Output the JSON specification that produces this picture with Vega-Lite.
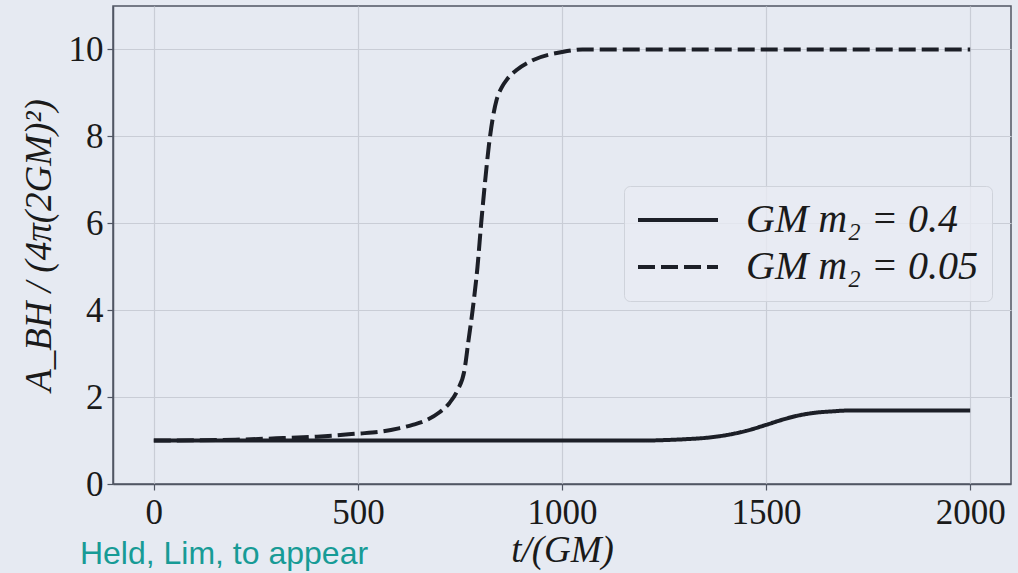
{
  "$schema": "https://vega.github.io/schema/vega-lite/v6.json",
  "width": 898,
  "height": 478,
  "autosize": "none",
  "padding": {"left": 113, "top": 6, "right": 7, "bottom": 89},
  "background": "#e6eaf2",
  "config": {
    "view": {"stroke": "#505663", "strokeWidth": 1.5, "fill": "#e6eaf2"},
    "axis": {
      "gridColor": "#c9cdd6",
      "gridWidth": 1.2,
      "domainColor": "#505663",
      "domainWidth": 1.5,
      "tickColor": "#505663",
      "tickSize": 6,
      "tickWidth": 1.2,
      "labelFont": "Liberation Serif",
      "labelFontSize": 35,
      "labelColor": "#1a1a1a",
      "titleFont": "Liberation Serif",
      "titleFontSize": 37,
      "titleFontStyle": "italic",
      "titleFontWeight": "normal",
      "titleColor": "#1a1a1a"
    }
  },
  "datasets": {
    "curves": [
      {"series": "GM m₂ = 0.4", "t": 0, "A": 1.0},
      {"series": "GM m₂ = 0.4", "t": 500, "A": 1.0},
      {"series": "GM m₂ = 0.4", "t": 1000, "A": 1.0},
      {"series": "GM m₂ = 0.4", "t": 1200, "A": 1.0},
      {"series": "GM m₂ = 0.4", "t": 1250, "A": 1.01},
      {"series": "GM m₂ = 0.4", "t": 1300, "A": 1.03},
      {"series": "GM m₂ = 0.4", "t": 1350, "A": 1.06},
      {"series": "GM m₂ = 0.4", "t": 1417, "A": 1.15},
      {"series": "GM m₂ = 0.4", "t": 1450, "A": 1.22},
      {"series": "GM m₂ = 0.4", "t": 1500, "A": 1.36},
      {"series": "GM m₂ = 0.4", "t": 1540, "A": 1.48},
      {"series": "GM m₂ = 0.4", "t": 1581, "A": 1.58},
      {"series": "GM m₂ = 0.4", "t": 1620, "A": 1.64},
      {"series": "GM m₂ = 0.4", "t": 1660, "A": 1.67},
      {"series": "GM m₂ = 0.4", "t": 1700, "A": 1.69},
      {"series": "GM m₂ = 0.4", "t": 1850, "A": 1.69},
      {"series": "GM m₂ = 0.4", "t": 2000, "A": 1.69},
      {"series": "GM m₂ = 0.05", "t": 0, "A": 1.0},
      {"series": "GM m₂ = 0.05", "t": 100, "A": 1.005},
      {"series": "GM m₂ = 0.05", "t": 200, "A": 1.02},
      {"series": "GM m₂ = 0.05", "t": 300, "A": 1.05},
      {"series": "GM m₂ = 0.05", "t": 400, "A": 1.09},
      {"series": "GM m₂ = 0.05", "t": 500, "A": 1.16},
      {"series": "GM m₂ = 0.05", "t": 553, "A": 1.2},
      {"series": "GM m₂ = 0.05", "t": 600, "A": 1.28},
      {"series": "GM m₂ = 0.05", "t": 634, "A": 1.36},
      {"series": "GM m₂ = 0.05", "t": 668, "A": 1.47},
      {"series": "GM m₂ = 0.05", "t": 700, "A": 1.65},
      {"series": "GM m₂ = 0.05", "t": 724, "A": 1.86},
      {"series": "GM m₂ = 0.05", "t": 744, "A": 2.16},
      {"series": "GM m₂ = 0.05", "t": 761, "A": 2.62},
      {"series": "GM m₂ = 0.05", "t": 771, "A": 3.31},
      {"series": "GM m₂ = 0.05", "t": 781, "A": 4.0},
      {"series": "GM m₂ = 0.05", "t": 793, "A": 5.0},
      {"series": "GM m₂ = 0.05", "t": 802, "A": 6.0},
      {"series": "GM m₂ = 0.05", "t": 812, "A": 7.0},
      {"series": "GM m₂ = 0.05", "t": 821, "A": 7.8},
      {"series": "GM m₂ = 0.05", "t": 830, "A": 8.4},
      {"series": "GM m₂ = 0.05", "t": 840, "A": 8.85},
      {"series": "GM m₂ = 0.05", "t": 852, "A": 9.12},
      {"series": "GM m₂ = 0.05", "t": 866, "A": 9.32},
      {"series": "GM m₂ = 0.05", "t": 888, "A": 9.52},
      {"series": "GM m₂ = 0.05", "t": 928, "A": 9.75},
      {"series": "GM m₂ = 0.05", "t": 1000, "A": 9.94},
      {"series": "GM m₂ = 0.05", "t": 1050, "A": 10.0},
      {"series": "GM m₂ = 0.05", "t": 1200, "A": 10.0},
      {"series": "GM m₂ = 0.05", "t": 1600, "A": 10.0},
      {"series": "GM m₂ = 0.05", "t": 2000, "A": 10.0}
    ],
    "notes": [
      {"t": -181, "A": -1.84, "label": "Held, Lim, to appear"}
    ]
  },
  "layer": [
    {
      "data": {"name": "curves"},
      "mark": {"type": "line", "strokeWidth": 4, "color": "#1c1f27", "interpolate": "monotone", "strokeCap": "butt"},
      "encoding": {
        "x": {
          "field": "t", "type": "quantitative",
          "scale": {"domain": [-100, 2100], "nice": false, "zero": false},
          "axis": {"values": [0, 500, 1000, 1500, 2000], "format": "d", "title": "t/(GM)", "labelPadding": 5, "titlePadding": 2, "labelFlush": false}
        },
        "y": {
          "field": "A", "type": "quantitative",
          "scale": {"domain": [0, 11], "nice": false, "zero": false},
          "axis": {"values": [0, 2, 4, 6, 8, 10], "format": "d", "title": "A_BH / (4π(2GM)²)", "labelPadding": 4, "titlePadding": 10, "labelFlush": false}
        },
        "detail": {"field": "series"},
        "strokeDash": {
          "field": "series", "type": "nominal",
          "scale": {"domain": ["GM m₂ = 0.4", "GM m₂ = 0.05"], "range": [[1, 0], [17, 6]]},
          "legend": {
            "title": null,
            "orient": "none",
            "legendX": 511,
            "legendY": 180,
            "symbolType": "M-2,0H6",
            "symbolSize": 400,
            "symbolStrokeWidth": 4,
            "symbolStrokeColor": "#1c1f27",
            "labelFont": "Liberation Serif",
            "labelFontStyle": "italic",
            "labelFontSize": 40,
            "labelColor": "#1a1a1a",
            "labelOffset": 68,
            "labelLimit": 400,
            "rowPadding": 7,
            "padding": 14,
            "fillColor": "rgba(232,235,243,0.8)",
            "strokeColor": "#cfd3db",
            "cornerRadius": 6
          }
        }
      }
    },
    {
      "data": {"name": "notes"},
      "mark": {"type": "text", "align": "left", "baseline": "alphabetic", "font": "Liberation Sans", "fontSize": 32, "color": "#179b96"},
      "encoding": {
        "x": {"field": "t", "type": "quantitative"},
        "y": {"field": "A", "type": "quantitative"},
        "text": {"field": "label"}
      }
    }
  ]
}
